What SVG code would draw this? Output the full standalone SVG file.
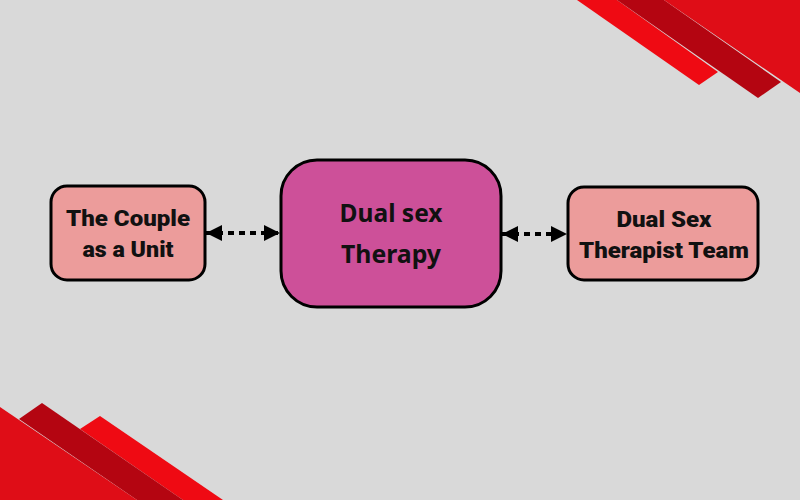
<svg xmlns="http://www.w3.org/2000/svg" width="800" height="500" viewBox="0 0 800 500">
<defs>
<style>
.box{stroke:#000;stroke-width:3}
.side{fill:#ec9c9b}
.mid{fill:#cd5099}
.t{font-family:Roboto,"Liberation Sans",sans-serif;font-weight:900;font-size:22px;fill:#111;text-anchor:middle}
.tm{font-family:"Noto Sans","Liberation Sans",sans-serif;font-weight:bold;font-size:25px;fill:#111;text-anchor:middle}
.con{stroke:#000;stroke-width:4;stroke-dasharray:6 5;fill:none}
</style>
<marker id="ah" viewBox="0 0 10 10" refX="10" refY="5" markerWidth="4" markerHeight="4.4" orient="auto-start-reverse" markerUnits="strokeWidth">
<path d="M0,0 L10,5 L0,10 z" fill="#000"/>
</marker>
</defs>
<rect width="800" height="500" fill="#d9d9d9"/>
<g id="decor">
<polygon points="577,0 617,0 718,72 699,85" fill="#ef0a13"/>
<polygon points="617,0 664,0 781,82 758,98" fill="#b40511"/>
<polygon points="664,0 800,0 800,93" fill="#df0d17"/>
<polygon points="80,429 100,416 223,500 183,500" fill="#ef0a13"/>
<polygon points="19,419 42,403 183,500 137,500" fill="#b40511"/>
<polygon points="0,407 0,500 137,500" fill="#df0d17"/>
</g>
<g id="connectors">
<line class="con" x1="206" y1="233" x2="280" y2="233" marker-start="url(#ah)" marker-end="url(#ah)"/>
<line class="con" x1="502" y1="234" x2="567" y2="234" marker-start="url(#ah)" marker-end="url(#ah)"/>
</g>
<g id="couple">
<rect class="box side" x="51" y="186" width="154" height="94" rx="16"/>
<text class="t" x="128" y="226" textLength="124" lengthAdjust="spacingAndGlyphs">The Couple</text>
<text class="t" x="128" y="257" textLength="91" lengthAdjust="spacingAndGlyphs">as a Unit</text>
</g>
<g id="dual-therapy">
<rect class="box mid" x="281" y="160" width="220" height="147" rx="36"/>
<text class="tm" x="391" y="222" textLength="103" lengthAdjust="spacingAndGlyphs">Dual sex</text>
<text class="tm" x="391" y="263" textLength="100" lengthAdjust="spacingAndGlyphs">Therapy</text>
</g>
<g id="team">
<rect class="box side" x="568" y="187" width="190" height="93" rx="16"/>
<text class="t" x="664" y="227" textLength="95" lengthAdjust="spacingAndGlyphs">Dual Sex</text>
<text class="t" x="664" y="258" textLength="170" lengthAdjust="spacingAndGlyphs">Therapist Team</text>
</g>
</svg>
